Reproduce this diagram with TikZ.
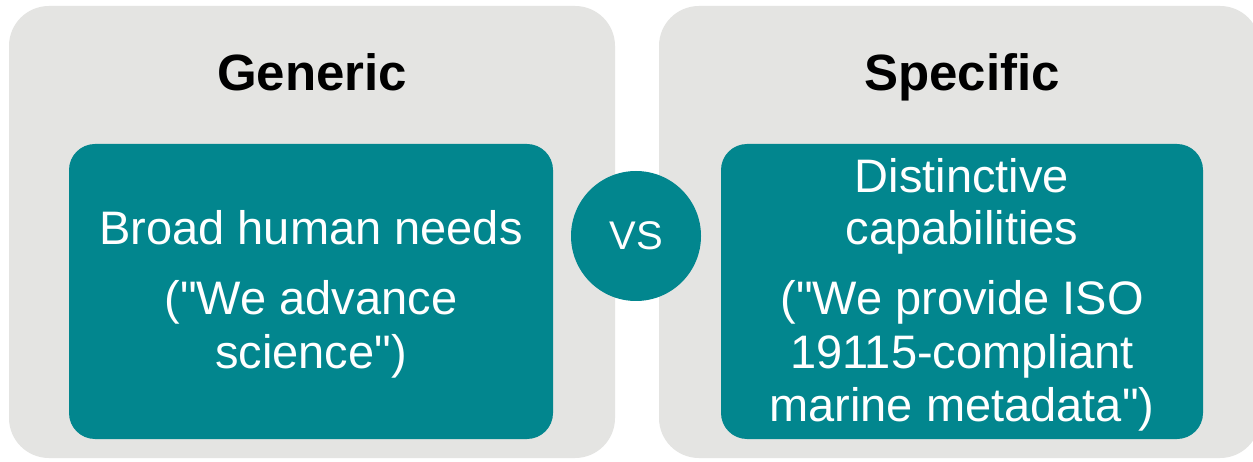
\documentclass[tikz,border=0pt]{standalone}
\usepackage{fontspec}
\setmainfont{Liberation Sans}[Ligatures=TeXOff]
\definecolor{panelgray}{RGB}{228,228,226}
\definecolor{teal}{RGB}{2,134,142}
\begin{document}
\begin{tikzpicture}[x=1pt,y=-1pt,
  panel/.style={fill=panelgray, draw=none, rounded corners=40pt},
  card/.style={fill=teal, draw=none, rounded corners=26pt},
  title/.style={font=\fontsize{51}{55}\selectfont\bfseries, text=black, anchor=base, inner sep=0pt},
  body/.style={font=\fontsize{47}{53}\selectfont, text=white, anchor=base, inner sep=0pt, align=center},
  vsc/.style={circle, fill=teal, draw=none, minimum size=130pt, inner sep=0pt, text=white, font=\fontsize{40}{42}\selectfont}]
\useasboundingbox[fill=white] (0,0) rectangle (1253,462);
\path[panel] (9,6) rectangle (615,458);
\path[panel] (659,6) rectangle (1260,458);
\path[card] (69,144) rectangle (553,439);
\path[card] (721,144) rectangle (1203,439);
\node[title] (gen) at (312,91) {Generic};
\node[title] (spe) at (962,91) {Specific};
\node[body] (l1) at (311,245) {Broad human needs};
\node[body] (l2) at (311,315) {("We advance};
\node[body] (l3) at (311,368) {science")};
\node[body] (r1) at (962,193) {Distinctive};
\node[body] (r2) at (962,245) {capabilities};
\node[body] (r3) at (962,315) {("We provide ISO};
\node[body] (r4) at (962,368) {19115-compliant};
\node[body] (r5) at (962,421) {marine metadata")};
\node[vsc] (vs) at (636,236) {VS};
\end{tikzpicture}
\end{document}
